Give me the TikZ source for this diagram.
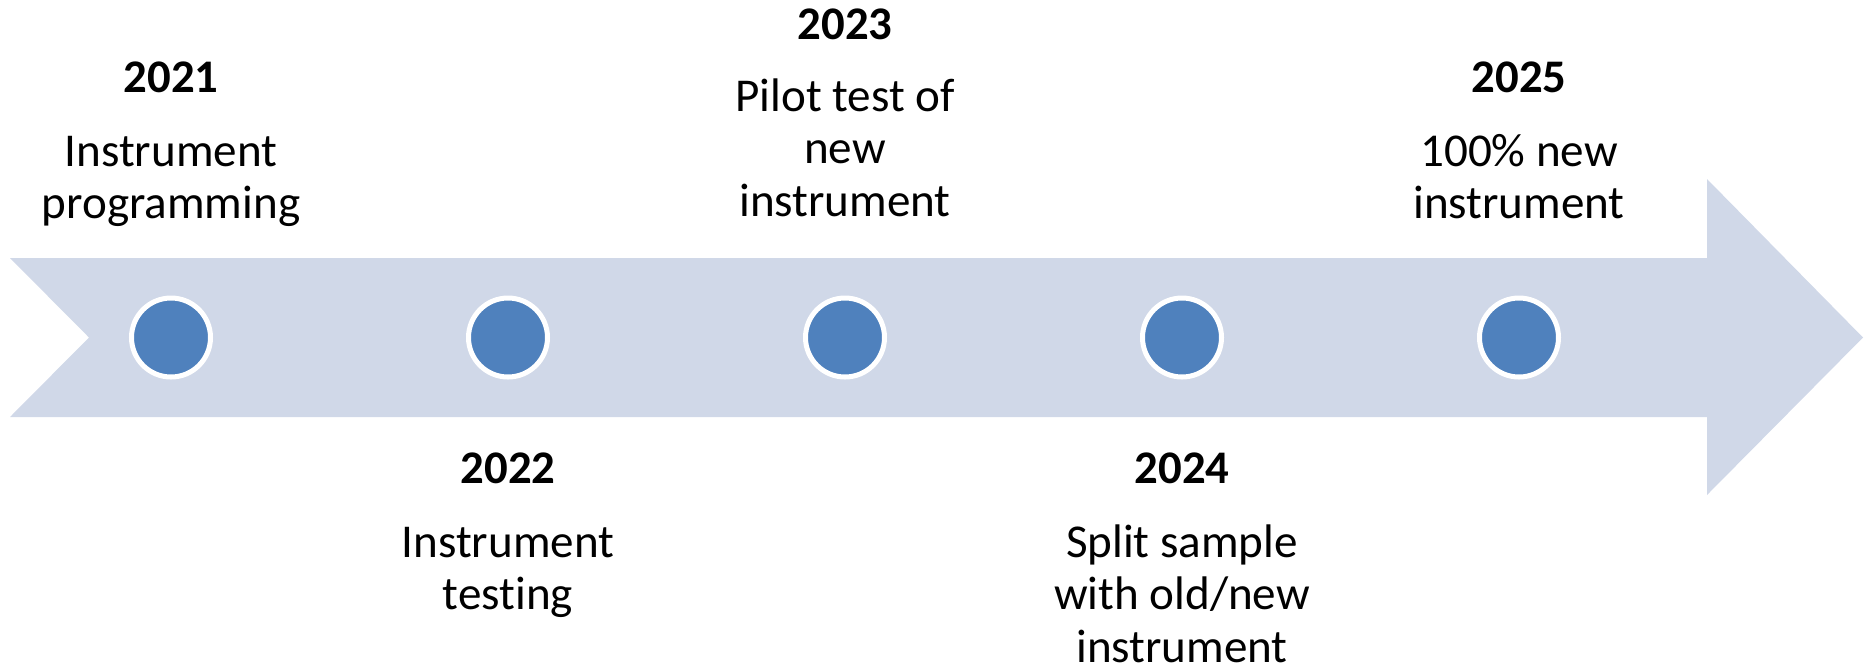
\documentclass[tikz,border=0pt]{standalone}
\usepackage{fontspec}
\setmainfont[Ligatures=NoCommon]{Carlito}
\definecolor{bandblue}{RGB}{208,216,232}
\definecolor{dotblue}{RGB}{79,129,189}
\tikzset{
  yearlabel/.style={anchor=base,inner sep=0pt,font=\fontsize{13.3}{14.9}\selectfont\bfseries},
  desclabel/.style={anchor=north,inner sep=0pt,align=center,font=\fontsize{13.4}{14.9}\selectfont},
  dot/.style={circle,fill=dotblue,draw=white,line width=0.05cm,minimum size=0.79cm,inner sep=0pt}
}
\begin{document}
\begin{tikzpicture}
        \useasboundingbox (0,0) rectangle (18.64,-6.66);
        % timeline arrow
        \fill[bandblue] (0.10,-2.58) -- (17.07,-2.58) -- (17.07,-1.79) -- (18.63,-3.375)
          -- (17.07,-4.95) -- (17.07,-4.17) -- (0.10,-4.17) -- (0.89,-3.375) -- cycle;
        \node[dot] (d2021) at (1.71,-3.375) {};
        \node[dot] (d2022) at (5.08,-3.375) {};
        \node[dot] (d2023) at (8.45,-3.375) {};
        \node[dot] (d2024) at (11.82,-3.375) {};
        \node[dot] (d2025) at (15.19,-3.375) {};
        % years
        \node[yearlabel] (y2021) at (1.71,-0.92) {2021};
        \node[yearlabel] (y2022) at (5.08,-4.83) {2022};
        \node[yearlabel] (y2023) at (8.45,-0.39) {2023};
        \node[yearlabel] (y2024) at (11.82,-4.83) {2024};
        \node[yearlabel] (y2025) at (15.19,-0.92) {2025};
        % descriptions
        \node[desclabel] (t2021) at (1.71,-1.29) {\strut Instrument\\programming};
        \node[desclabel] (t2022) at (5.08,-5.20) {\strut Instrument\\testing};
        \node[desclabel] (t2023) at (8.45,-0.74) {\strut Pilot test of\\new\\instrument};
        \node[desclabel] (t2024) at (11.82,-5.20) {\strut Split sample\\with old/new\\instrument};
        \node[desclabel] (t2025) at (15.19,-1.29) {\strut 100\% new\\instrument};
\end{tikzpicture}
\end{document}
